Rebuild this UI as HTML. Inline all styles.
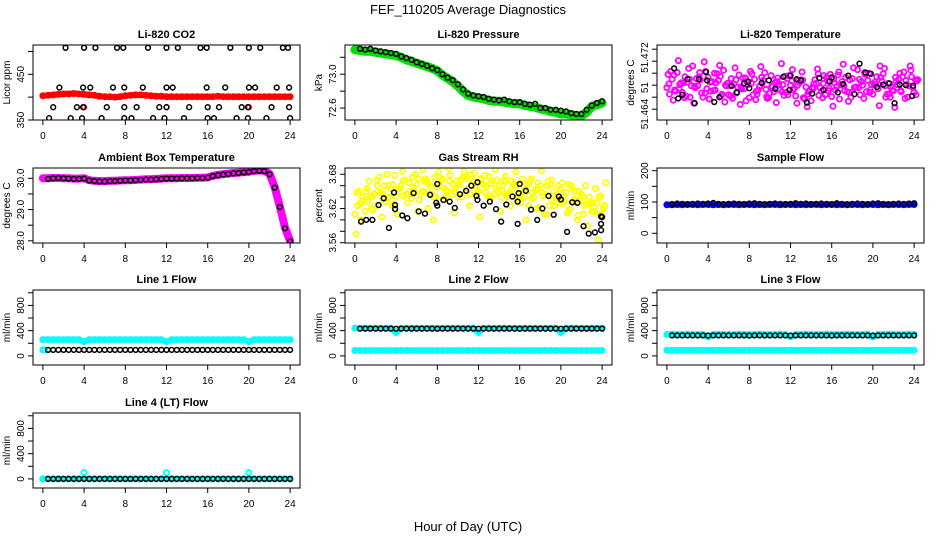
<!DOCTYPE html>
<html><head><meta charset="utf-8">
<style>
html,body{margin:0;padding:0;background:#fff;}
svg{display:block;font-family:"Liberation Sans",sans-serif;}
</style></head>
<body>
<svg id="chart" width="936" height="540" viewBox="0 0 936 540" xmlns="http://www.w3.org/2000/svg">
<text x="468" y="14" text-anchor="middle" font-size="13">FEF_110205  Average Diagnostics</text>
<text x="468" y="531" text-anchor="middle" font-size="13">Hour of Day (UTC)</text>
</svg>
<script>
// ---------------- data ----------------
const hours = [0,0.5,1,1.5,2,2.5,3,3.5,4,4.5,5,5.5,6,6.5,7,7.5,8,8.5,9,9.5,10,10.5,11,11.5,12,12.5,13,13.5,14,14.5,15,15.5,16,16.5,17,17.5,18,18.5,19,19.5,20,20.5,21,21.5,22,22.5,23,23.5,24];
const xTicks = [0,4,8,12,16,20,24];

const co2Red = [403,404,405,406,407,407,408,407,406,405,404,402,401,401,400,401,403,404,405,405,404,403,402,402,401,401,401,401,401,401,401,401,401,401,402,401,401,401,401,401,401,401,401,401,401,401,401,401,401];
const co2RedOutHours = [4,12,20];
const co2RedOutVals = [378,378,378];
const co2BlackHours = [2.2,4.0,5.1,7.2,7.8,10.2,12.0,13.1,15.3,15.9,18.2,20.0,21.1,23.3,23.8, 1.6,3.9,4.6,6.8,7.9,9.7,12.0,12.6,15.9,17.7,20.0,20.6,22.7,23.9, 1.0,3.3,3.9,6.2,7.9,9.1,11.3,12.0,14.2,16.0,17.1,19.3,19.9,22.2,23.9, 0.6,2.7,3.8,5.7,7.9,8.6,10.7,11.8,13.7,16.0,16.6,18.8,19.9,21.7,24.0];
const co2BlackVals = [508,508,508,508,508,508,508,508,508,508,508,508,508,508,508, 421,421,421,421,421,421,421,421,421,421,421,421,421,421, 378,378,378,378,378,378,378,378,378,378,378,378,378,378,378, 354,354,354,354,354,354,354,354,354,354,354,354,354,354,354];

const pressGreen = [73.29,73.28,73.27,73.27,73.26,73.25,73.24,73.23,73.22,73.20,73.17,73.15,73.13,73.11,73.09,73.07,73.04,72.99,72.95,72.91,72.86,72.80,72.75,72.73,72.72,72.71,72.69,72.68,72.68,72.67,72.66,72.65,72.65,72.63,72.62,72.61,72.59,72.58,72.56,72.55,72.53,72.53,72.52,72.51,72.51,72.55,72.62,72.64,72.66];
const pressBlack = [73.30,73.29,73.30,73.28,73.27,73.26,73.25,73.24,73.21,73.19,73.17,73.14,73.12,73.10,73.07,73.05,73.00,72.96,72.93,72.88,72.82,72.77,72.75,72.74,72.73,72.71,72.70,72.69,72.70,72.68,72.67,72.67,72.65,72.64,72.65,72.60,72.60,72.58,72.58,72.57,72.56,72.54,72.53,72.53,72.58,72.63,72.66,72.68];

const tempA = [51.4676,51.4690,51.4701,51.4668,51.4685,51.4712,51.4679,51.4660,51.4693,51.4671,51.4688,51.4705,51.4664,51.4682,51.4697,51.4674,51.4659,51.4690,51.4678,51.4701,51.4667,51.4685,51.4672,51.4695,51.4680,51.4662,51.4689,51.4677,51.4654,51.4683,51.4670,51.4693,51.4661,51.4678,51.4686,51.4669,51.4691,51.4706,51.4680,51.4688,51.4665,51.4674,51.4699,51.4683,51.4671,51.4690,51.4702,51.4679,51.4668];
const tempB = [51.4665,51.4672,51.4681,51.4694,51.4660,51.4676,51.4689,51.4703,51.4670,51.4684,51.4662,51.4679,51.4691,51.4667,51.4674,51.4686,51.4699,51.4665,51.4683,51.4658,51.4677,51.4692,51.4681,51.4664,51.4672,51.4688,51.4659,51.4669,51.4682,51.4663,51.4696,51.4675,51.4684,51.4657,51.4671,51.4689,51.4676,51.4664,51.4698,51.4672,51.4681,51.4693,51.4660,51.4677,51.4686,51.4669,51.4681,51.4694,51.4687];
const tempC = [51.4698,51.4655,51.4721,51.4684,51.4708,51.4650,51.4694,51.4719,51.4657,51.4700,51.4713,51.4652,51.4679,51.4709,51.4648,51.4692,51.4703,51.4656,51.4711,51.4673,51.4696,51.4651,51.4716,51.4668,51.4687,51.4650,51.4702,51.4644,51.4676,51.4707,51.4659,51.4687,51.4645,51.4697,51.4715,51.4653,51.4709,51.4676,51.4658,51.4700,51.4681,51.4646,51.4708,51.4666,51.4643,51.4700,51.4658,51.4712,51.4689];
const tempBlackHours = [0.7,1.1,1.5,2.0,2.7,3.1,3.8,3.9,4.6,5.1,6.3,6.8,7.5,7.9,8.0,9.2,9.9,10.5,11.3,11.9,12.0,12.6,13.0,13.6,14.1,14.8,15.2,15.8,16.0,16.6,17.1,17.6,18.2,18.7,19.3,19.8,20.4,21.0,21.6,22.1,22.6,23.2,23.8,23.9];
const tempBlack = [51.4708,51.4658,51.4664,51.4690,51.4650,51.4690,51.4702,51.4688,51.4652,51.4660,51.4679,51.4668,51.4683,51.4686,51.4675,51.4684,51.4688,51.4674,51.4694,51.4672,51.4696,51.4690,51.4688,51.4651,51.4666,51.4692,51.4672,51.4686,51.4693,51.4668,51.4682,51.4696,51.4665,51.4716,51.4701,51.4699,51.4677,51.4681,51.4683,51.4650,51.4681,51.4680,51.4662,51.4679];

const ambMagenta = [30.00,30.00,30.01,30.01,30.00,30.00,29.99,29.99,30.00,29.94,29.92,29.91,29.91,29.92,29.92,29.93,29.94,29.94,29.95,29.96,29.97,29.97,29.98,29.99,30.00,30.00,30.00,30.01,30.01,30.01,30.02,30.02,30.03,30.08,30.11,30.13,30.15,30.17,30.18,30.20,30.21,30.24,30.25,30.24,30.15,29.72,29.10,28.42,28.00];
const ambBlack = [29.98,30.00,30.01,30.00,29.99,29.98,29.98,29.99,29.93,29.91,29.90,29.90,29.91,29.91,29.92,29.93,29.93,29.94,29.95,29.96,29.96,29.97,29.98,29.99,29.99,29.99,30.00,30.00,30.00,30.01,30.01,30.02,30.07,30.10,30.12,30.14,30.16,30.17,30.19,30.20,30.23,30.24,30.23,30.13,29.70,29.08,28.40,27.98];

const rhA = [3.610,3.628,3.615,3.640,3.625,3.648,3.632,3.655,3.641,3.660,3.645,3.638,3.662,3.650,3.668,3.645,3.657,3.672,3.650,3.663,3.640,3.675,3.655,3.668,3.650,3.662,3.676,3.645,3.660,3.670,3.648,3.664,3.655,3.640,3.668,3.652,3.660,3.645,3.662,3.637,3.655,3.648,3.660,3.635,3.645,3.628,3.615,3.630,3.608];
const rhB = [3.625,3.640,3.632,3.618,3.650,3.636,3.660,3.628,3.655,3.642,3.665,3.650,3.635,3.668,3.645,3.675,3.660,3.640,3.678,3.655,3.670,3.650,3.680,3.645,3.672,3.658,3.640,3.670,3.652,3.645,3.668,3.640,3.672,3.660,3.648,3.665,3.642,3.668,3.650,3.660,3.640,3.662,3.636,3.650,3.625,3.640,3.622,3.610,3.625];
const rhC = [3.575,3.600,3.650,3.620,3.670,3.605,3.680,3.625,3.610,3.685,3.630,3.675,3.615,3.688,3.620,3.600,3.684,3.635,3.690,3.612,3.665,3.685,3.625,3.682,3.605,3.678,3.640,3.688,3.615,3.676,3.625,3.684,3.630,3.600,3.672,3.620,3.686,3.610,3.670,3.630,3.665,3.612,3.655,3.600,3.640,3.590,3.630,3.565,3.620];
const rhBlackHours = [0.6,1.1,1.7,2.3,2.8,3.3,3.8,3.9,3.9,4.6,5.1,5.7,6.2,6.8,7.3,7.9,8.0,8.0,8.6,9.2,9.7,10.2,10.8,11.3,11.8,11.9,11.9,12.5,13.1,13.7,14.2,14.7,15.3,15.8,15.9,16.0,15.8,16.6,17.1,17.7,18.2,18.8,19.3,19.8,20.0,20.6,21.1,21.6,22.2,22.7,23.3,23.9,23.9,23.9,24.0];
const rhBlack = [3.597,3.600,3.600,3.626,3.638,3.586,3.648,3.626,3.619,3.608,3.603,3.647,3.615,3.611,3.644,3.630,3.663,3.625,3.635,3.632,3.621,3.645,3.651,3.660,3.642,3.666,3.635,3.625,3.632,3.619,3.597,3.627,3.641,3.632,3.647,3.663,3.593,3.651,3.618,3.600,3.620,3.642,3.609,3.641,3.636,3.579,3.631,3.630,3.589,3.576,3.578,3.606,3.593,3.582,3.605];

const sampleBlue = [91,91,92,91,92,92,91,92,92,91,92,91,92,92,91,92,92,91,92,91,92,92,91,92,92,91,92,91,92,92,91,92,92,91,92,91,92,92,91,92,92,91,92,91,92,92,91,92,92];
const sampleBlack = [93,95,94,93,94,95,94,95,97,94,93,94,95,94,93,95,96,94,93,94,95,94,93,94,96,94,95,93,94,95,94,93,96,94,93,94,95,94,93,95,96,94,93,94,95,94,95,96];

const line1Cyan = [258,258,258,258,258,258,258,258,225,258,258,258,258,258,258,258,258,258,258,258,258,258,258,258,225,258,258,258,258,258,258,258,258,258,258,258,258,258,258,258,225,258,258,258,258,258,258,258,258];
const line1Black = [95,95,95,95,95,95,95,95,95,95,95,95,95,95,95,95,95,95,95,95,95,95,95,95,95,95,95,95,95,95,95,95,95,95,95,95,95,95,95,95,95,95,95,95,95,95,95,95];
const line2CyanLow = [85,85,85,85,85,85,85,85,85,85,85,85,85,85,85,85,85,85,85,85,85,85,85,85,85,85,85,85,85,85,85,85,85,85,85,85,85,85,85,85,85,85,85,85,85,85,85,85,85];
const line2CyanHigh = [440,440,440,440,440,440,440,440,370,440,440,440,440,440,440,440,440,440,440,440,440,440,440,440,370,440,440,440,440,440,440,440,440,440,440,440,440,440,440,440,370,440,440,440,440,440,440,440,440];
const line2Black = [432,432,432,432,432,432,432,430,432,432,432,432,432,432,432,430,432,432,432,432,432,432,432,430,432,432,432,432,432,432,432,430,432,432,432,432,432,432,432,430,432,432,432,432,432,432,432,432];
const line3CyanLow = [90,90,90,90,90,90,90,90,90,90,90,90,90,90,90,90,90,90,90,90,90,90,90,90,90,90,90,90,90,90,90,90,90,90,90,90,90,90,90,90,90,90,90,90,90,90,90,90,90];
const line3CyanHigh = [340,345,340,340,345,340,340,340,300,340,345,340,340,340,345,340,340,340,345,340,340,340,345,340,300,340,340,345,340,340,340,345,340,340,340,345,340,340,340,345,300,340,340,345,340,340,340,345,340];
const line3Black = [325,325,325,325,325,325,325,322,325,325,325,325,325,325,325,322,325,325,325,325,325,325,325,322,325,325,325,325,325,325,325,322,325,325,325,325,325,325,325,322,325,325,325,325,325,325,325,325];
const line4Cyan = [0,0,0,0,0,0,0,0,100,0,0,0,0,0,0,0,0,0,0,0,0,0,0,0,100,0,0,0,0,0,0,0,0,0,0,0,0,0,0,0,100,0,0,0,0,0,0,0,0];
const line4Black = [0,0,0,0,0,0,0,0,0,0,0,0,0,0,0,0,0,0,0,0,0,0,0,0,0,0,0,0,0,0,0,0,0,0,0,0,0,0,0,0,0,0,0,0,0,0,0,0];

// ---------------- drawing ----------------
const NS = "http://www.w3.org/2000/svg";
const svg = document.getElementById("chart");
const colX = [33,345,657], rowY = [45,168,290,413], PW = 267, PH = 75;
let clipId = 0;
function mk(tag, attrs, parent){
  const e = document.createElementNS(NS, tag);
  for (const k in attrs) e.setAttribute(k, attrs[k]);
  (parent||svg).appendChild(e);
  return e;
}
function panel(c, r, title, ylab, ymin, ymax, yTicks, yLabels, name){
  const x0 = colX[c], y0 = rowY[r];
  const g = mk("g", {});
  
  
  const sx = h => x0 + (h + 0.96) / 25.92 * PW;
  const sy = v => y0 + PH - (v - ymin) / (ymax - ymin) * PH;
  const t = mk("text", {x: x0 + PW/2, y: y0 - 7, "text-anchor":"middle", "font-size":"11", "font-weight":"bold"}, g);
  t.textContent = title;
  
  
  xTicks.forEach(h => {
    const tk = mk("line", {x1:sx(h), x2:sx(h), y1:y0+PH, y2:y0+PH+5, stroke:"#000"}, g);
    
    
    const tl = mk("text", {x:sx(h), y:y0+PH+19, "text-anchor":"middle", "font-size":"10"}, g);
    tl.textContent = h;
    
    
  });
  yTicks.forEach(v => {
    const tk = mk("line", {x1:x0-5, x2:x0, y1:sy(v), y2:sy(v), stroke:"#000"}, g);
    
    
  });
  yLabels.forEach(([v, s]) => {
    const yy = sy(v);
    const tl = mk("text", {x:x0-9, y:yy, "text-anchor":"middle", "font-size":"10", transform:`rotate(-90 ${x0-9} ${yy})`}, g);
    tl.textContent = s;
    
    
  });
  const yl = mk("text", {x:x0-23, y:y0+PH/2, "text-anchor":"middle", "font-size":"10", transform:`rotate(-90 ${x0-23} ${y0+PH/2})`}, g);
  yl.textContent = ylab;
  
  
  const id = "clip" + (clipId++);
  const cp = mk("clipPath", {id:id}, g);
  mk("rect", {x:x0, y:y0, width:PW, height:PH}, cp);
  const plot = mk("g", {"clip-path":`url(#${id})`}, g);
  
  
  const box = mk("rect", {x:x0, y:y0, width:PW, height:PH, fill:"none", stroke:"#000"}, g);
  
  
  return {sx, sy, plot};
}
function band(P, xs, ys, color, width, sname){
  const pts = ys.map((v,i) => P.sx(xs[i]).toFixed(1) + "," + P.sy(v).toFixed(1)).join(" ");
  const pl = mk("polyline", {points:pts, fill:"none", stroke:color, "stroke-width":width, "stroke-linejoin":"round", "stroke-linecap":"round"}, P.plot);
  
  
  points(P, xs, ys, color, sname, 2.6, 1.8);
}
function points(P, xs, ys, color, sname, r, sw){
  ys.forEach((v,i) => {
    if (xs[i] === undefined) return;
    const c = mk("circle", {cx:P.sx(xs[i]), cy:P.sy(v), r:r||2.4, fill:"none", stroke:color, "stroke-width":sw||1.5}, P.plot);
    
    
  });
}
const half = hours.slice(1);
const offs = d => hours.map(h => h + d);

let P = panel(0,0,"Li-820 CO2","Licor ppm",350,514.1,[350,400,450,500],[[350,"350"],[450,"450"]],"co2");
band(P, hours, co2Red, "#ff0000", 6, "co2-red");
points(P, co2RedOutHours, co2RedOutVals, "#ff0000", "co2-red-outlier");
points(P, co2BlackHours, co2BlackVals, "#000", "co2-black");

P = panel(1,0,"Li-820 Pressure","kPa",72.459,73.345,[72.6,72.8,73.0,73.2],[[72.6,"72.6"],[73.0,"73.0"]],"pressure");
band(P, hours, pressGreen, "#00dd00", 9, "pressure-green");
points(P, half, pressBlack, "#000", "pressure-black");

P = panel(2,0,"Li-820 Temperature","degrees C",51.4622,51.4747,[51.464,51.466,51.468,51.470,51.472,51.474],[[51.4632,"51.464"],[51.4676,"51"],[51.4726,"51.472"]],"li820-temp");
points(P, hours, tempA, "#ff00ff", "temp-magenta", 2.6, 1.8);
points(P, offs(0.25), tempB, "#ff00ff", "temp-magenta", 2.6, 1.8);
points(P, offs(0.12), tempC, "#ff00ff", "temp-magenta", 2.6, 1.8);
points(P, offs(0.37), tempA.map((v,i)=>tempB[(i+7)%tempB.length]), "#ff00ff", "temp-magenta", 2.6, 1.8);
points(P, offs(0.19), tempA.map((v,i)=>tempA[(i+13)%tempA.length]), "#ff00ff", "temp-magenta", 2.6, 1.8);
points(P, tempBlackHours, tempBlack, "#000", "temp-black");

P = panel(0,1,"Ambient Box Temperature","degrees C",27.93,30.33,[28,28.5,29,29.5,30],[[28,"28.0"],[29,"29.0"],[30,"30.0"]],"ambient");
band(P, hours, ambMagenta, "#ff00ff", 8, "ambient-magenta");
points(P, half, ambBlack, "#000", "ambient-black");

P = panel(1,1,"Gas Stream RH","percent",3.5595,3.691,[3.56,3.58,3.60,3.62,3.64,3.66,3.68],[[3.56,"3.56"],[3.62,"3.62"],[3.68,"3.68"]],"rh");
points(P, hours, rhA, "#ffff00", "rh-yellow", 2.6, 1.8);
points(P, offs(0.25), rhB, "#ffff00", "rh-yellow", 2.6, 1.8);
points(P, offs(0.12), rhC, "#ffff00", "rh-yellow", 2.6, 1.8);
points(P, offs(0.37), rhA.map((v,i)=>rhB[(i+11)%rhB.length]), "#ffff00", "rh-yellow", 2.6, 1.8);
points(P, offs(0.19), rhB.map((v,i)=>rhA[(i+5)%rhA.length]), "#ffff00", "rh-yellow", 2.6, 1.8);
points(P, rhBlackHours, rhBlack, "#000", "rh-black");

P = panel(2,1,"Sample Flow","ml/min",-31,208.6,[0,50,100,150,200],[[0,"0"],[100,"100"],[200,"200"]],"sample-flow");
band(P, hours, sampleBlue, "#0000ff", 6, "sample-blue");
points(P, half, sampleBlack, "#000", "sample-black");

const flowTicks = [0,200,400,600,800,1000], flowLabels = [[0,"0"],[400,"400"],[800,"800"]];
P = panel(0,2,"Line 1 Flow","ml/min",-144,1044,flowTicks,flowLabels,"line1");
band(P, hours, line1Cyan, "#00ffff", 6, "line1-cyan");
points(P, [0,0.2], [95,95], "#00ffff", "line1-cyan-low", 2.6, 1.8);
points(P, half, line1Black, "#000", "line1-black");

P = panel(1,2,"Line 2 Flow","ml/min",-144,1044,flowTicks,flowLabels,"line2");
band(P, hours, line2CyanLow, "#00ffff", 6, "line2-cyan-low");
band(P, hours, line2CyanHigh, "#00ffff", 6, "line2-cyan-high");
points(P, half, line2Black, "#000", "line2-black");

P = panel(2,2,"Line 3 Flow","ml/min",-144,1044,flowTicks,flowLabels,"line3");
band(P, hours, line3CyanLow, "#00ffff", 6, "line3-cyan-low");
band(P, hours, line3CyanHigh, "#00ffff", 6, "line3-cyan-high");
points(P, half, line3Black, "#000", "line3-black");

P = panel(0,3,"Line 4 (LT) Flow","ml/min",-144,1044,flowTicks,flowLabels,"line4");
band(P, hours, line4Cyan.map(v=>Math.min(v,0)), "#00ffff", 5, "line4-cyan-base");
points(P, hours, line4Cyan, "#00ffff", "line4-cyan", 2.6, 1.8);
points(P, half, line4Black, "#000", "line4-black");
</script>
</body></html>
